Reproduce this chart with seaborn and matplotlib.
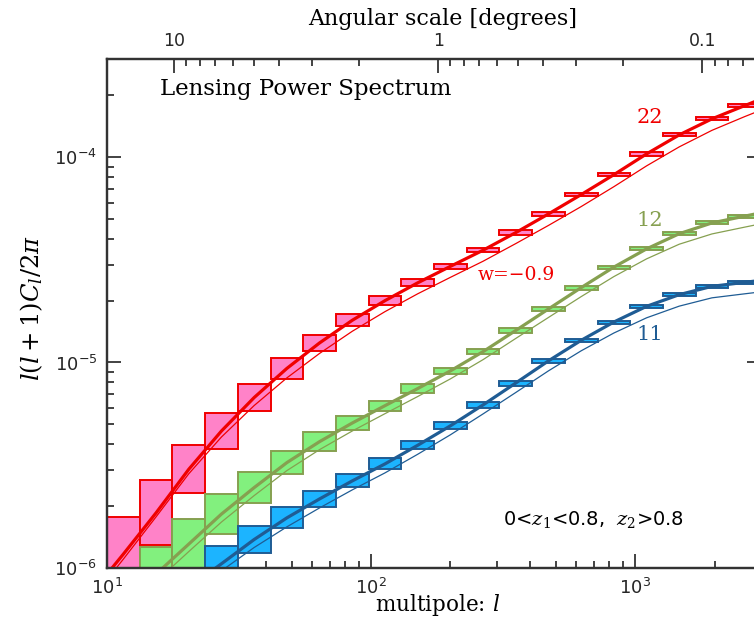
import numpy as np
import pandas as pd
import matplotlib
matplotlib.use("Agg")
import matplotlib.pyplot as plt
import seaborn as sns
from matplotlib.ticker import FixedLocator, FuncFormatter, NullFormatter, LogLocator

# ---------------- data ----------------
edges = [10, 13.3, 17.69, 23.53, 31.29, 41.62, 55.35, 73.62, 97.92, 130.2, 173.2,
         230.4, 306.4, 407.5, 542.0, 720.9, 958.8, 1275.2, 1696.1, 2255.8, 3000]
centers = [11.53, 15.34, 20.40, 27.13, 36.09, 48.00, 63.84, 84.91, 112.9, 150.2,
           199.8, 265.7, 353.4, 470.0, 625.1, 831.4, 1105.8, 1470.7, 1956.0, 2601.6]

# bin 22 (red): all 20 bins
lo_22 = [7.7e-7, 1.285e-6, 2.301e-6, 3.78e-6, 5.79e-6, 8.35e-6, 1.143e-5, 1.501e-5,
         1.898e-5, 2.349e-5, 2.851e-5, 3.437e-5, 4.19e-5, 5.186e-5, 6.44e-5, 8.08e-5,
         1.019e-4, 1.263e-4, 1.512e-4, 1.754e-4]
hi_22 = [1.759e-6, 2.662e-6, 3.954e-6, 5.68e-6, 7.86e-6, 1.048e-5, 1.357e-5, 1.716e-5,
         2.107e-5, 2.541e-5, 3.03e-5, 3.608e-5, 4.398e-5, 5.4e-5, 6.71e-5, 8.36e-5,
         1.057e-4, 1.307e-4, 1.565e-4, 1.815e-4]
# bin 12 (green): bins 1..19
lo_12 = [6.85e-7, 9.8e-7, 1.459e-6, 2.058e-6, 2.858e-6, 3.71e-6, 4.679e-6, 5.808e-6,
         7.106e-6, 8.76e-6, 1.096e-5, 1.398e-5, 1.781e-5, 2.263e-5, 2.866e-5, 3.516e-5,
         4.17e-5, 4.704e-5, 5.077e-5]
hi_12 = [1.265e-6, 1.731e-6, 2.284e-6, 2.932e-6, 3.698e-6, 4.56e-6, 5.492e-6, 6.525e-6,
         7.833e-6, 9.445e-6, 1.163e-5, 1.467e-5, 1.863e-5, 2.368e-5, 2.965e-5, 3.637e-5,
         4.31e-5, 4.865e-5, 5.25e-5]
# bin 11 (blue): bins 3..19
lo_11 = [8.54e-7, 1.175e-6, 1.555e-6, 1.974e-6, 2.462e-6, 3.012e-6, 3.769e-6, 4.731e-6,
         6.005e-6, 7.721e-6, 9.91e-6, 1.254e-5, 1.547e-5, 1.845e-5, 2.104e-5, 2.31e-5,
         2.416e-5]
hi_11 = [1.278e-6, 1.601e-6, 1.967e-6, 2.37e-6, 2.848e-6, 3.407e-6, 4.135e-6, 5.1e-6,
         6.424e-6, 8.166e-6, 1.045e-5, 1.307e-5, 1.601e-5, 1.909e-5, 2.177e-5, 2.389e-5,
         2.499e-5]

# model curves: fiducial (thick) and w = -0.9 (thin)
l_22 = [10] + centers + [3000]
fid_22 = [9.3e-7, 1.164e-6, 1.850e-6, 3.016e-6, 4.634e-6, 6.746e-6, 9.354e-6, 1.245e-5,
          1.605e-5, 2.0e-5, 2.443e-5, 2.939e-5, 3.522e-5, 4.293e-5, 5.292e-5, 6.574e-5,
          8.219e-5, 1.038e-4, 1.285e-4, 1.538e-4, 1.784e-4, 1.919e-4]
w09_22 = [8.75e-7, 1.1005e-6, 1.769e-6, 2.868e-6, 4.333e-6, 6.168e-6, 8.409e-6, 1.1067e-5,
          1.4188e-5, 1.768e-5, 2.160e-5, 2.598e-5, 3.113e-5, 3.795e-5, 4.652e-5, 5.747e-5,
          7.185e-5, 9.074e-5, 1.1233e-4, 1.3521e-4, 1.5771e-4, 1.6964e-4]

l_12 = centers[1:] + [3000]
fid_12 = [9.31e-7, 1.303e-6, 1.825e-6, 2.456e-6, 3.251e-6, 4.113e-6, 5.069e-6, 6.156e-6,
          7.461e-6, 9.096e-6, 1.129e-5, 1.432e-5, 1.822e-5, 2.315e-5, 2.915e-5, 3.576e-5,
          4.24e-5, 4.784e-5, 5.163e-5, 5.36e-5]
w09_12 = [8.56e-7, 1.198e-6, 1.669e-6, 2.246e-6, 2.972e-6, 3.761e-6, 4.635e-6, 5.628e-6,
          6.822e-6, 8.316e-6, 1.0322e-5, 1.3093e-5, 1.6566e-5, 2.093e-5, 2.6206e-5, 3.197e-5,
          3.769e-5, 4.229e-5, 4.564e-5, 4.738e-5]

l_11 = centers[2:] + [3000]
fid_11 = [8.0e-7, 1.045e-6, 1.372e-6, 1.749e-6, 2.163e-6, 2.648e-6, 3.203e-6, 3.948e-6,
          4.912e-6, 6.211e-6, 7.941e-6, 1.018e-5, 1.282e-5, 1.574e-5, 1.877e-5, 2.14e-5,
          2.349e-5, 2.457e-5, 2.512e-5]
w09_11 = [7.40e-7, 9.66e-7, 1.2544e-6, 1.5813e-6, 1.9556e-6, 2.394e-6, 2.896e-6, 3.569e-6,
          4.441e-6, 5.615e-6, 7.139e-6, 9.101e-6, 1.1396e-5, 1.3914e-5, 1.6501e-5, 1.8813e-5,
          2.065e-5, 2.160e-5, 2.208e-5]

top_ticks = [10, 1, 0.1]
top_labels = ["10", "1", "0.1"]

# ---------------- styling ----------------
sns.set_theme(style="ticks")
plt.rcParams["font.family"] = ["DejaVu Serif"]
plt.rcParams["mathtext.fontset"] = "dejavuserif"

RED, PINK = "#F00000", "#FF82C8"
GRN, LGRN = "#86A050", "#82F07E"
BLU, LBLU = "#1F5C94", "#1CB4FF"

fig = plt.figure(figsize=(7.54, 6.19), dpi=100)
ax = fig.add_axes([107 / 754, (619 - 567.7) / 619, 654 / 754, 508.4 / 619])
ax.set_xscale("log")
ax.set_yscale("log")

def boxes(lo, hi, first, face, edge):
    n = len(lo)
    left = edges[first:first + n]
    right = edges[first + 1:first + n + 1]
    widths = [r - l for l, r in zip(left, right)]
    heights = [h - l for l, h in zip(lo, hi)]
    ax.bar(left, heights, width=widths, bottom=lo, align="edge",
           facecolor=face, edgecolor=edge, linewidth=1.4, zorder=2)

boxes(lo_22, hi_22, 0, PINK, RED)
boxes(lo_12, hi_12, 1, LGRN, GRN)
boxes(lo_11, hi_11, 3, LBLU, BLU)

for l, fid, w09, c in [(l_22, fid_22, w09_22, RED),
                       (l_12, fid_12, w09_12, GRN),
                       (l_11, fid_11, w09_11, BLU)]:
    df = pd.DataFrame({"l": l, "fid": fid, "w09": w09})
    sns.lineplot(data=df, x="l", y="w09", color=c, linewidth=0.9, ax=ax, zorder=3)
    sns.lineplot(data=df, x="l", y="fid", color=c, linewidth=2.3, ax=ax, zorder=4)

ax.set_xlim(10, 3000)
ax.set_ylim(1e-6, 3e-4)
ax.set_xlabel("")
ax.set_ylabel("")

def pow_fmt(v, p):
    e = int(round(np.log10(v)))
    return r"$\mathsf{10^{%d}}$" % e

ax.xaxis.set_major_locator(FixedLocator([10, 100, 1000]))
ax.xaxis.set_major_formatter(FuncFormatter(pow_fmt))
ax.xaxis.set_minor_locator(LogLocator(base=10, subs=np.arange(2, 10), numticks=20))
ax.xaxis.set_minor_formatter(NullFormatter())
ax.yaxis.set_major_locator(FixedLocator([1e-6, 1e-5, 1e-4]))
ax.yaxis.set_major_formatter(FuncFormatter(pow_fmt))
ax.yaxis.set_minor_locator(LogLocator(base=10, subs=np.arange(2, 10), numticks=20))
ax.yaxis.set_minor_formatter(NullFormatter())
ax.tick_params(which="both", direction="in", top=False, right=True, color="#222222",
               width=1.2)
ax.tick_params(which="major", length=10, labelsize=13, pad=7)
ax.tick_params(which="minor", length=5)
for s in ax.spines.values():
    s.set_linewidth(1.6)
    s.set_color("#333333")

# top axis: angular scale in degrees
ax2 = ax.twiny()
ax2.set_xscale("log")
ax2.set_xlim(180 / 10, 180 / 3000)
ax2.xaxis.set_major_locator(FixedLocator(top_ticks))
ax2.xaxis.set_major_formatter(FuncFormatter(lambda v, p: top_labels[top_ticks.index(v)]
                                            if v in top_ticks else ""))
minor_top = [m * d for d in (0.01, 0.1, 1) for m in range(2, 10)]
ax2.xaxis.set_minor_locator(FixedLocator(minor_top))
ax2.xaxis.set_minor_formatter(NullFormatter())
ax2.tick_params(which="both", direction="in", color="#222222", width=1.2)
ax2.tick_params(which="major", length=10, labelsize=12.5, pad=7)
ax2.tick_params(which="minor", length=5)
for lab in ax2.get_xticklabels():
    lab.set_family("DejaVu Sans")
for s in ax2.spines.values():
    s.set_linewidth(1.6)
    s.set_color("#333333")

# texts
fig.text(443 / 754, 1 - 19 / 619, "Angular scale [degrees]", ha="center", va="center",
         fontsize=16, color="black")
fig.text(438 / 754, 1 - 605 / 619, r"multipole: $l$", ha="center", va="center",
         fontsize=15.5, color="black")
fig.text(32 / 754, 1 - 308 / 619, r"$l(l+1)C_l/2\pi$", rotation=90, ha="center",
         va="center", fontsize=17.5, color="black")

ax.text(0.081, 0.9416, "Lensing Power Spectrum", transform=ax.transAxes, ha="left",
        va="center", fontsize=16.5, color="black")
ax.text(0.830, 0.8846, "22", transform=ax.transAxes, ha="center", va="center",
        fontsize=15, color=RED)
ax.text(0.830, 0.682, "12", transform=ax.transAxes, ha="center", va="center",
        fontsize=15, color=GRN)
ax.text(0.830, 0.4596, "11", transform=ax.transAxes, ha="center", va="center",
        fontsize=15, color=BLU)
ax.text(0.6254, 0.5757, "w=\u22120.9", transform=ax.transAxes, ha="center", va="center",
        fontsize=13.5, color=RED)
ax.text(0.6055, 0.094, r"0<$z_1$<0.8,  $z_2$>0.8", transform=ax.transAxes, ha="left",
        va="center", fontsize=14, color="black", family="DejaVu Sans")

fig.savefig("out.png", dpi=100)
